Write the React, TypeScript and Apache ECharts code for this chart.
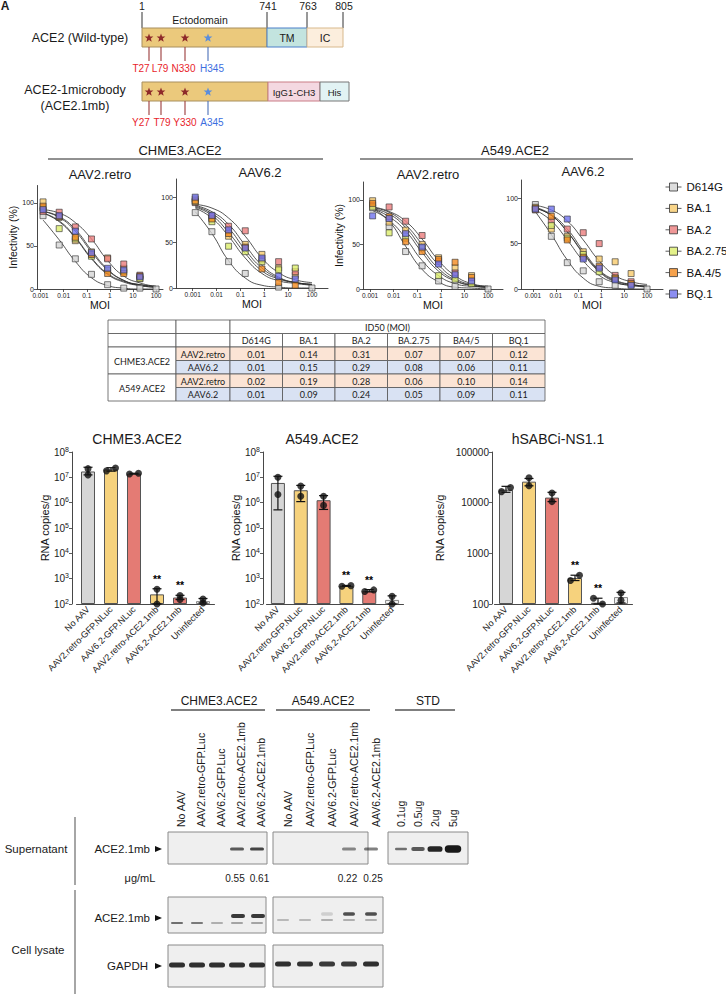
import React, { useEffect, useRef } from 'react';
import * as echarts from 'echarts';

const FONT = '"Liberation Sans", Arial, Helvetica, sans-serif';
const TABLE_FONT = 'Lato, "Open Sans", sans-serif';

// ---------- Panel A: domain diagram ----------
const DOMAIN_BOUNDS = ['1', '741', '763', '805'];
const MUT_WT = ['T27', 'L79', 'N330', 'H345'];
const MUT_MB = ['Y27', 'T79', 'Y330', 'A345'];

// ---------- Panel B: infectivity ----------
const MOI = [0.00128, 0.0064, 0.032, 0.16, 0.8, 4, 20, 100];
const MOI_TICKS = [0.001, 0.01, 0.1, 1, 10, 100];
const VARIANTS = ['D614G', 'BA.1', 'BA.2', 'BA.2.75', 'BA.4/5', 'BQ.1'];
const VARIANT_COLORS = ['#D4D4D4', '#F7CB6B', '#EB7D7D', '#DCEE6C', '#F28A1F', '#6F72EE'];

const CHME3_RETRO_PTS = [
  [85, 51, 35, 17, 5, 1, 1, 0],
  [101, 83, 56, 43, 36, 24, 12, null],
  [90, 89, 72, 58, 35, 29, 16, null],
  [94, 70, 58, 38, 22, 20, 12, null],
  [96, 84, 60, 40, 18, 18, 15, null],
  [92, 85, 67, 42, 24, 22, 14, null],
];
const CHME3_AAV62_PTS = [
  [83, 62, 29, 16, null, 1, null, 0],
  [98, 77, 57, 48, 37, 22, 14, null],
  [94, 79, 68, 63, 31, 29, 18, null],
  [95, 73, 46, 40, 29, 20, 22, null],
  [96, 76, 60, 45, 21, 6, 3, null],
  [100, 80, 64, 44, 33, 13, 10, null],
];
const A549_RETRO_PTS = [
  [91, 70, 42, 26, 9, 3, null, 0],
  [99, 75, 66, 50, 35, 24, 15, null],
  [94, 92, 76, 60, 31, 18, 8, null],
  [92, 63, 57, 46, 15, 11, 6, null],
  [96, 81, 53, 42, 33, 30, 13, null],
  [82, 79, 62, 47, 28, 16, 9, null],
];
const A549_AAV62_PTS = [
  [93, 58, 29, 20, 8, 4, null, 0],
  [90, 66, 58, 41, 33, 30, 17, null],
  [87, 75, 66, 62, 50, 15, 8, null],
  [88, 70, 56, 38, 19, 12, 5, null],
  [89, 80, 54, 35, 25, 12, 6, null],
  [88, 88, 77, 33, 23, 10, 4, null],
];

// fitted curves read at the MOI positions
const CHME3_RETRO_FIT = [
  [80, 57, 32, 13, 4, 1, 0, 0],
  [90, 84, 69, 45, 23, 10, 4, 2],
  [92, 88, 77, 58, 33, 15, 7, 3],
  [88, 78, 59, 35, 17, 8, 4, 2],
  [88, 79, 60, 36, 18, 9, 5, 3],
  [90, 83, 67, 43, 22, 10, 5, 3],
];
const CHME3_AAV62_FIT = [
  [84, 60, 30, 11, 3, 1, 0, 0],
  [91, 84, 70, 47, 25, 12, 6, 4],
  [92, 88, 77, 57, 33, 17, 9, 6],
  [89, 80, 61, 38, 19, 10, 6, 4],
  [88, 77, 57, 33, 16, 8, 5, 3],
  [90, 82, 66, 42, 22, 11, 6, 4],
];
const A549_RETRO_FIT = [
  [90, 76, 48, 22, 8, 2, 1, 0],
  [91, 86, 72, 50, 27, 12, 5, 3],
  [92, 87, 76, 56, 32, 15, 6, 3],
  [88, 77, 57, 32, 15, 6, 3, 2],
  [90, 81, 65, 41, 20, 9, 4, 2],
  [90, 84, 69, 45, 23, 10, 4, 2],
];
const A549_AAV62_FIT = [
  [85, 60, 32, 12, 3, 1, 0, 0],
  [89, 81, 63, 40, 20, 9, 5, 3],
  [92, 87, 75, 54, 31, 15, 8, 5],
  [87, 75, 54, 31, 15, 7, 4, 2],
  [89, 81, 63, 39, 19, 8, 4, 3],
  [90, 82, 66, 42, 21, 10, 5, 3],
];

// ---------- ID50 table ----------
const ID50_COLS = ['D614G', 'BA.1', 'BA.2', 'BA.2.75', 'BA4/5', 'BQ.1'];
const CELL_LINES = ['CHME3.ACE2', 'A549.ACE2'];
const VECTORS = ['AAV2.retro', 'AAV6.2'];
const ID50_CHME3_RETRO = [0.01, 0.14, 0.31, 0.07, 0.07, 0.12];
const ID50_CHME3_AAV62 = [0.01, 0.15, 0.29, 0.08, 0.06, 0.11];
const ID50_A549_RETRO = [0.02, 0.19, 0.28, 0.06, 0.10, 0.14];
const ID50_A549_AAV62 = [0.01, 0.09, 0.24, 0.05, 0.09, 0.11];

// ---------- Panel C: RNA copies ----------
const BAR_GROUPS = ['No AAV', 'AAV2.retro-GFP.NLuc', 'AAV6.2-GFP.NLuc', 'AAV2.retro-ACE2.1mb', 'AAV6.2-ACE2.1mb', 'Uninfected'];
const BAR_COLORS = ['#D6D6D6', '#F6D27D', '#E47B74', '#F6D27D', '#E47B74', '#F2F2F2'];
const STAR_MARKS = ['', '', '', '**', '**', ''];

const CHME3_MEAN = [1.7e7, 2.05e7, 1.4e7, 240, 180, 130];
const CHME3_P1 = [2.2e7, 1.8e7, 1.35e7, 380, 150, 110];
const CHME3_P2 = [1.25e7, 2.35e7, 1.45e7, 100, 215, 158];
const CHME3_HI = [2.5e7, 2.4e7, 1.45e7, 400, 220, 165];
const CHME3_LO = [1.25e7, 1.75e7, 1.35e7, 100, 150, 110];

const A549_MEAN = [6e6, 3.1e6, 1.25e6, 520, 330, 145];
const A549_P1 = [1.0e7, 4.5e6, 1.8e6, 505, 310, 200];
const A549_P2 = [2.1e6, 1.8e6, 7.8e5, 530, 360, 100];
const A549_HI = [1.1e7, 4.8e6, 1.9e6, 540, 370, 210];
const A549_LO = [5.2e5, 1.1e6, 5.4e5, 500, 300, 100];

const HSAB_MEAN = [18000, 26000, 12600, 325, 106, 137];
const HSAB_P1 = [16500, 31000, 15500, 290, 130, 165];
const HSAB_P2 = [20000, 21500, 10500, 370, 100, 118];
const HSAB_HI = [21000, 30000, 16000, 370, 130, 170];
const HSAB_LO = [16000, 21500, 10500, 290, 100, 105];

// ---------- Panel D: western blot ----------
const BLOT_LANES = ['No AAV', 'AAV2.retro-GFP.Luc', 'AAV6.2-GFP.Luc', 'AAV2.retro-ACE2.1mb', 'AAV6.2-ACE2.1mb'];
const STD_LANES = ['0.1ug', '0.5ug', '2ug', '5ug'];
const CONC_CHME3 = [0.55, 0.61];
const CONC_A549 = [0.22, 0.25];
const SUP_CHME3 = [0, 0, 0, 0.7, 0.8];
const SUP_A549 = [0, 0, 0, 0.5, 0.55];
const SUP_STD = [0.6, 0.7, 0.95, 1];
const LYS_UP_CHME3 = [0, 0, 0, 0.85, 0.85];
const LYS_LOW_CHME3 = [0.6, 0.55, 0.3, 0.35, 0.35];
const LYS_UP_A549 = [0, 0, 0.15, 0.75, 0.75];
const LYS_LOW_A549 = [0.25, 0.25, 0.3, 0.3, 0.3];
const GAPDH_CHME3 = [0.9, 0.9, 0.9, 0.9, 0.9];
const GAPDH_A549 = [0.9, 0.88, 0.85, 0.85, 0.9];

const BAR_PANELS = [
  { mean: CHME3_MEAN, p1: CHME3_P1, p2: CHME3_P2, hi: CHME3_HI, lo: CHME3_LO, grid: { left: 76.5, top: 452, width: 138, height: 152 }, offset: 4.5, max: 1e8, sup: true, nameGap: 20 },
  { mean: A549_MEAN, p1: A549_P1, p2: A549_P2, hi: A549_HI, lo: A549_LO, grid: { left: 266.5, top: 452, width: 137, height: 152 }, offset: 3.5, max: 1e8, sup: true, nameGap: 20 },
  { mean: HSAB_MEAN, p1: HSAB_P1, p2: HSAB_P2, hi: HSAB_HI, lo: HSAB_LO, grid: { left: 494.5, top: 452, width: 138, height: 152 }, offset: 2.5, max: 1e5, sup: false, nameGap: 47 },
];

// ---------------- helpers ----------------
const T = (x: number, y: number, text: string, o: any = {}) => ({
  type: 'text',
  x,
  y,
  rotation: o.rotation || 0,
  style: {
    text,
    fill: o.fill || '#1a1a1a',
    fontSize: o.fontSize || 11,
    fontFamily: o.fontFamily || FONT,
    fontWeight: o.fontWeight || 'normal',
    align: o.align || 'center',
    textAlign: o.align || 'center',
    verticalAlign: o.valign || 'middle',
    textVerticalAlign: o.valign || 'middle',
  },
});
const L = (x1: number, y1: number, x2: number, y2: number, stroke = '#222', lineWidth = 1) => ({
  type: 'line',
  shape: { x1, y1, x2, y2 },
  style: { stroke, lineWidth },
});
const R = (x: number, y: number, w: number, h: number, fill: string, stroke = 'none', lineWidth = 1, r = 0) => ({
  type: 'rect',
  shape: { x, y, width: w, height: h, r },
  style: { fill, stroke, lineWidth },
});
const starPts = (cx: number, cy: number, rad: number) => {
  const pts: number[][] = [];
  for (let k = 0; k < 10; k++) {
    const r = k % 2 === 0 ? rad : rad * 0.42;
    const a = -Math.PI / 2 + (k * Math.PI) / 5;
    pts.push([cx + r * Math.cos(a), cy + r * Math.sin(a)]);
  }
  return pts;
};

function buildGraphics() {
  const g: any[] = [];
  // panel letter
  g.push(T(5, 6, 'A', { fontWeight: 'bold', fontSize: 12 }));

  // ---- diagram ----
  const tickX = [142, 267, 307, 343];
  DOMAIN_BOUNDS.forEach((t, i) => {
    g.push(T(tickX[i] + (i === 0 ? 0 : 1), 6, t, { fontSize: 10.5 }));
    g.push(L(tickX[i], 12, tickX[i], 28, '#333', 1));
  });
  g.push(T(200, 20, 'Ectodomain', { fontSize: 10.5 }));
  g.push(R(142, 28, 125, 19, '#EBC97C', '#A88F5F', 1));
  g.push(R(267, 28, 40, 19, '#C3E4DF', '#4B7FC9', 1));
  g.push(R(307, 28, 36, 19, '#FCEEDD', '#D8B98C', 1));
  g.push(T(287, 38, 'TM', { fontSize: 10.5 }));
  g.push(T(325, 38, 'IC', { fontSize: 10.5 }));
  g.push(T(80, 38, 'ACE2 (Wild-type)', { fontSize: 12.5 }));

  g.push(R(142, 82, 126, 19, '#EBC97C', '#A88F5F', 1));
  g.push(R(268, 82, 52, 19, '#F4D8E1', '#C97C86', 1));
  g.push(R(320, 82, 29, 19, '#E2F3F4', '#777', 1));
  g.push(T(294, 92, 'IgG1-CH3', { fontSize: 9.5 }));
  g.push(T(334.5, 92, 'His', { fontSize: 9.5 }));
  g.push(T(75, 90, 'ACE2-1microbody', { fontSize: 12.5 }));
  g.push(T(75, 106, '(ACE2.1mb)', { fontSize: 12.5 }));

  const starX = [149, 161, 185, 208];
  const labX = [141, 160, 183.5, 212];
  const labX2 = [141, 162, 185, 212];
  [38, 92].forEach((sy, row) => {
    starX.forEach((sx, i) => {
      const blue = i === 3;
      g.push({ type: 'polygon', shape: { points: starPts(sx, sy, 4.6) }, style: { fill: blue ? '#5B8EDC' : '#8E2A2A' } });
      g.push(L(sx, sy + 9, sx, sy + 23, blue ? '#4A6FB8' : '#9A3A3A', 1.1));
      const labels = row === 0 ? MUT_WT : MUT_MB;
      g.push(T((row === 0 ? labX : labX2)[i], sy + 30, labels[i], { fontSize: 10, fill: blue ? '#3B6EE0' : '#E8242B' }));
    });
  });

  // ---- infectivity headers ----
  g.push(T(180, 150, 'CHME3.ACE2', { fontSize: 13 }));
  g.push(L(48, 159, 323, 159, '#222', 1));
  g.push(T(515, 150, 'A549.ACE2', { fontSize: 13 }));
  g.push(L(360, 159, 633, 159, '#222', 1));
  g.push(T(100, 174, 'AAV2.retro', { fontSize: 13 }));
  g.push(T(260, 172, 'AAV6.2', { fontSize: 13 }));
  g.push(T(428, 174, 'AAV2.retro', { fontSize: 13 }));
  g.push(T(583, 171, 'AAV6.2', { fontSize: 13 }));

  // ---- ID50 table ----
  const TX = [108, 176, 230, 282.5, 335, 387.5, 440, 492.5, 545];
  const TY = [320, 333.5, 347, 360.5, 374, 387.5, 401];
  const VEC_FILL = ['#FBE4D5', '#D9E2F3'];
  const cell = (c0: number, c1: number, r0: number, r1: number, text: string, fill = '#fff') => {
    g.push(R(TX[c0], TY[r0], TX[c1] - TX[c0], TY[r1] - TY[r0], fill, '#555', 0.8));
    if (text) g.push(T((TX[c0] + TX[c1]) / 2, (TY[r0] + TY[r1]) / 2 + 0.5, text, { fontSize: 9, fontFamily: TABLE_FONT }));
  };
  cell(0, 1, 0, 1, '');
  cell(1, 2, 0, 1, '');
  cell(2, 8, 0, 1, 'ID50 (MOI)');
  cell(0, 1, 1, 2, '');
  cell(1, 2, 1, 2, '');
  ID50_COLS.forEach((c, j) => cell(2 + j, 3 + j, 1, 2, c));
  const rows = [ID50_CHME3_RETRO, ID50_CHME3_AAV62, ID50_A549_RETRO, ID50_A549_AAV62];
  CELL_LINES.forEach((cl, li) => {
    cell(0, 1, 2 + 2 * li, 4 + 2 * li, cl);
    VECTORS.forEach((v, vi) => {
      const r = 2 + 2 * li + vi;
      cell(1, 2, r, r + 1, v, VEC_FILL[vi]);
      rows[li * 2 + vi].forEach((val, j) => cell(2 + j, 3 + j, r, r + 1, val.toFixed(2), VEC_FILL[vi]));
    });
  });

  // ---- bar chart titles ----
  g.push(T(137, 439, 'CHME3.ACE2', { fontSize: 14 }));
  g.push(T(322, 439, 'A549.ACE2', { fontSize: 14 }));
  g.push(T(558, 439, 'hSABCi-NS1.1', { fontSize: 14 }));

  // ---- western blot ----
  const laneC = [177, 197, 217, 237, 257];
  const laneA = [283, 305, 327, 349, 371];
  const laneS = [401, 418, 435, 453];
  g.push(T(219, 701, 'CHME3.ACE2', { fontSize: 12 }));
  g.push(L(171, 710, 265, 710, '#555', 1.3));
  g.push(T(323, 701, 'A549.ACE2', { fontSize: 12 }));
  g.push(L(276, 710, 370, 710, '#555', 1.3));
  g.push(T(428, 701, 'STD', { fontSize: 12 }));
  g.push(L(395, 710, 455, 710, '#555', 1.3));
  BLOT_LANES.forEach((lab, i) => {
    g.push(T(laneC[i] + 4, 827, lab, { rotation: Math.PI / 2, align: 'left', fontSize: 10.5 }));
    g.push(T(laneA[i] + 5, 827, lab, { rotation: Math.PI / 2, align: 'left', fontSize: 10.5 }));
  });
  STD_LANES.forEach((lab, i) => g.push(T(laneS[i], 827, lab, { rotation: Math.PI / 2, align: 'left', fontSize: 10.5 })));

  // blot frames
  const frame = (x: number, y: number, w: number, h: number) => g.push(R(x, y, w, h, '#EFEFEF', '#8A8A8A', 1));
  const band = (cx: number, cy: number, w: number, h: number, a: number) => {
    if (a <= 0) return;
    g.push(R(cx - w / 2, cy - h / 2, w, h, `rgba(25,25,25,${a})`, 'none', 0, h / 2));
  };
  const arrow = (x: number, y: number) => g.push({ type: 'polygon', shape: { points: [[x, y - 3], [x + 7, y], [x, y + 3]] }, style: { fill: '#111' } });

  // supernatant
  frame(168, 832, 99, 32);
  frame(273, 832, 95, 32);
  frame(388, 832, 80, 32);
  SUP_CHME3.forEach((a, i) => band(laneC[i], 849, 14, 3, a));
  SUP_A549.forEach((a, i) => band(laneA[i], 849, 14, 3, a));
  SUP_STD.forEach((a, i) => band(laneS[i], 849, 12 + i * 1.5, 2.5 + i * 1.6, a));
  g.push(T(150, 849, 'ACE2.1mb', { fontSize: 11.5, align: 'right' }));
  arrow(155, 849);
  g.push(T(36, 849, 'Supernatant', { fontSize: 11.5 }));
  g.push(L(75, 817, 75, 885, '#888', 1.5));
  g.push(T(140, 878, 'μg/mL', { fontSize: 11 }));
  const concXC = [235, 259.5];
  const concXA = [347.5, 373];
  CONC_CHME3.forEach((v, i) => g.push(T(concXC[i], 878, v.toFixed(2), { fontSize: 10 })));
  CONC_A549.forEach((v, i) => g.push(T(concXA[i], 878, v.toFixed(2), { fontSize: 10 })));

  // cell lysate ACE2.1mb
  frame(168, 897, 98, 36);
  frame(273, 897, 110, 36);
  LYS_UP_CHME3.forEach((a, i) => band(laneC[i] + 1, 916, 14, 4, a));
  LYS_LOW_CHME3.forEach((a, i) => band(laneC[i], 923, 12, 2, a));
  LYS_UP_A549.forEach((a, i) => band(laneA[i], 914, 12, 3.5, a));
  LYS_LOW_A549.forEach((a, i) => band(laneA[i], 920, 12, 2, a));
  g.push(T(150, 918, 'ACE2.1mb', { fontSize: 11.5, align: 'right' }));
  arrow(155, 918);

  // GAPDH
  frame(168, 945, 97, 42);
  frame(273, 945, 110, 42);
  GAPDH_CHME3.forEach((a, i) => band(laneC[i], 965, 16, 5, a));
  GAPDH_A549.forEach((a, i) => band(laneA[i], 964, 16, 5, a));
  g.push(T(148, 966, 'GAPDH', { fontSize: 11.5, align: 'right' }));
  arrow(155, 966);
  g.push(T(38, 950, 'Cell lysate', { fontSize: 11.5 }));
  g.push(L(75, 890, 75, 994, '#888', 1.5));
  return g;
}

function buildOption() {
  const infPanels = [
    { pts: CHME3_RETRO_PTS, fit: CHME3_RETRO_FIT, grid: { left: 37, top: 185.5, width: 126, height: 103.5 }, min: 0.0007, max: 200, yName: 'Infectivity (%)' },
    { pts: CHME3_AAV62_PTS, fit: CHME3_AAV62_FIT, grid: { left: 176, top: 179, width: 152, height: 109 }, min: 0.0002, max: 470, yName: '' },
    { pts: A549_RETRO_PTS, fit: A549_RETRO_FIT, grid: { left: 363, top: 182, width: 140, height: 107 }, min: 0.0005, max: 430, yName: 'Infectivity (%)' },
    { pts: A549_AAV62_PTS, fit: A549_AAV62_FIT, grid: { left: 521, top: 180, width: 142, height: 109 }, min: 0.0003, max: 500, yName: '' },
  ];
  const axisLine = { show: true, lineStyle: { color: '#333', width: 0.9 } };
  const grids: any[] = [];
  const xAxes: any[] = [];
  const yAxes: any[] = [];
  const series: any[] = [];

  infPanels.forEach((p, k) => {
    grids.push({ ...p.grid, containLabel: false });
    xAxes.push({
      type: 'log', logBase: 10, gridIndex: k, min: p.min, max: p.max,
      axisLine, splitLine: { show: false },
      axisTick: { show: true, length: 3, customValues: MOI_TICKS, lineStyle: { color: '#333', width: 0.8 } },
      axisLabel: { customValues: MOI_TICKS, fontSize: 6.5, color: '#222', margin: 3, formatter: (v: number) => String(v) },
      name: 'MOI', nameLocation: 'middle', nameGap: 9, nameTextStyle: { fontSize: 10.5, color: '#111' },
    });
    yAxes.push({
      type: 'value', gridIndex: k, min: 0, max: 120,
      axisLine, splitLine: { show: false },
      axisTick: { show: true, length: 3, customValues: [0, 50, 100], lineStyle: { color: '#333', width: 0.8 } },
      axisLabel: { customValues: [0, 50, 100], fontSize: 7, color: '#222', margin: 3 },
      name: p.yName, nameLocation: 'middle', nameGap: k === 0 ? 18 : 16, nameTextStyle: { fontSize: 10.5, color: '#111' },
    });
    VARIANTS.forEach((v, vi) => {
      series.push({
        type: 'line', name: 'fit ' + v, xAxisIndex: k, yAxisIndex: k, smooth: 0.5, showSymbol: false, symbol: 'none',
        lineStyle: { color: '#2a2a2a', width: 0.8 }, z: 2, silent: true,
        data: MOI.map((m, i) => [m, p.fit[vi][i]]),
      });
    });
    VARIANTS.forEach((v, vi) => {
      series.push({
        type: 'scatter', name: v, xAxisIndex: k, yAxisIndex: k, symbol: 'rect', symbolSize: 6, z: 3,
        itemStyle: { color: VARIANT_COLORS[vi], borderColor: '#333', borderWidth: 0.8 },
        data: MOI.map((m, i) => (p.pts[vi][i] == null ? null : [m, p.pts[vi][i]])).filter((d) => d !== null),
      });
    });
  });

  BAR_PANELS.forEach((b, bi) => {
    const k = 4 + bi;
    grids.push({ ...b.grid, containLabel: false });
    xAxes.push({
      type: 'category', gridIndex: k, data: BAR_GROUPS,
      axisLine, axisTick: { show: false },
      axisLabel: { interval: 0, rotate: 45, fontSize: 9, color: '#222', margin: 4 },
    });
    yAxes.push({
      type: 'log', logBase: 10, gridIndex: k, min: 100, max: b.max, startValue: 100, offset: b.offset,
      axisLine, splitLine: { show: false },
      axisTick: { show: true, length: 3, lineStyle: { color: '#333', width: 0.8 } },
      axisLabel: b.sup
        ? {
            formatter: (v: number) => '{b|10}{s|' + Math.round(Math.log10(v)) + '}',
            rich: { b: { fontSize: 10, color: '#222' }, s: { fontSize: 7, color: '#222', padding: [0, 0, 6, 0] } },
            margin: 3,
          }
        : { formatter: (v: number) => String(Math.round(v)), fontSize: 10, color: '#222', margin: 3 },
      name: 'RNA copies/g', nameLocation: 'middle', nameGap: b.nameGap, nameTextStyle: { fontSize: 11, color: '#111' },
    });
    series.push({
      type: 'bar', xAxisIndex: k, yAxisIndex: k, barWidth: 14, clip: true, z: 2,
      itemStyle: { borderColor: '#555', borderWidth: 1 },
      data: b.mean.map((v, i) => ({ value: v, itemStyle: { color: BAR_COLORS[i], borderColor: i === 5 ? '#888' : '#555' } })),
    });
    series.push({
      type: 'custom', xAxisIndex: k, yAxisIndex: k, z: 3, silent: true,
      encode: { x: 0, y: [1, 2] },
      data: b.lo.map((l, i) => [i, l, b.hi[i]]),
      renderItem: (params: any, api: any) => {
        const i = api.value(0);
        const a = api.coord([i, api.value(1)]);
        const c = api.coord([i, api.value(2)]);
        const cap = 4.5;
        const style = { stroke: '#111', lineWidth: 1.2 };
        return {
          type: 'group',
          children: [
            { type: 'line', shape: { x1: a[0], y1: a[1], x2: c[0], y2: c[1] }, style },
            { type: 'line', shape: { x1: a[0] - cap, y1: a[1], x2: a[0] + cap, y2: a[1] }, style },
            { type: 'line', shape: { x1: c[0] - cap, y1: c[1], x2: c[0] + cap, y2: c[1] }, style },
          ],
        };
      },
    });
    const pts: any[] = [];
    b.p1.forEach((v, i) => {
      const spread = Math.abs(Math.log10(v) - Math.log10(b.p2[i])) > 0.12 ? 0 : 4.5;
      pts.push({ value: [i, v], symbolOffset: [-spread, 0] });
      pts.push({ value: [i, b.p2[i]], symbolOffset: [spread, 0] });
    });
    series.push({
      type: 'scatter', xAxisIndex: k, yAxisIndex: k, z: 4, symbol: 'circle', symbolSize: 7,
      itemStyle: { color: '#111' }, data: pts, clip: false,
    });
  });

  return {
    animation: false,
    backgroundColor: '#ffffff',
    textStyle: { fontFamily: FONT },
    grid: grids,
    xAxis: xAxes,
    yAxis: yAxes,
    legend: {
      data: VARIANTS,
      orient: 'vertical',
      left: 660,
      top: 176,
      padding: 5,
      itemWidth: 16,
      itemHeight: 9,
      itemGap: 9.4,
      selectedMode: false,
      icon: 'path://M0,4.5H4M12,4.5H16M4,0.5H12V8.5H4Z',
      itemStyle: { borderColor: '#333', borderWidth: 1 },
      textStyle: { fontSize: 11.5, color: '#111', fontFamily: FONT },
    },
    series,
    graphic: { elements: buildGraphics() },
  };
}

export default function App() {
  const ref = useRef<HTMLDivElement>(null);
  useEffect(() => {
    if (!ref.current) return;
    const chart = echarts.init(ref.current, null, { renderer: 'svg' });
    const base = buildOption();
    chart.setOption(base as any);
    // significance marks placed through the chart's own scales
    const marks: any[] = [];
    BAR_PANELS.forEach((b, bi) => {
      STAR_MARKS.forEach((s, i) => {
        if (!s) return;
        const top = Math.max(b.hi[i], b.p1[i], b.p2[i]);
        const px = chart.convertToPixel({ gridIndex: 4 + bi } as any, [i, top]) as number[];
        if (!px) return;
        marks.push(T(Math.round(px[0]), Math.round(px[1] - 5), s, { fontSize: 10.5, fill: '#000', fontWeight: 'bold', valign: 'bottom' }));
      });
    });
    chart.setOption({ graphic: { elements: [...base.graphic.elements, ...marks] } } as any);
    return () => chart.dispose();
  }, []);
  return <div ref={ref} style={{ position: 'absolute', left: 0, top: 0, width: 726, height: 994, background: '#fff' }} />;
}
